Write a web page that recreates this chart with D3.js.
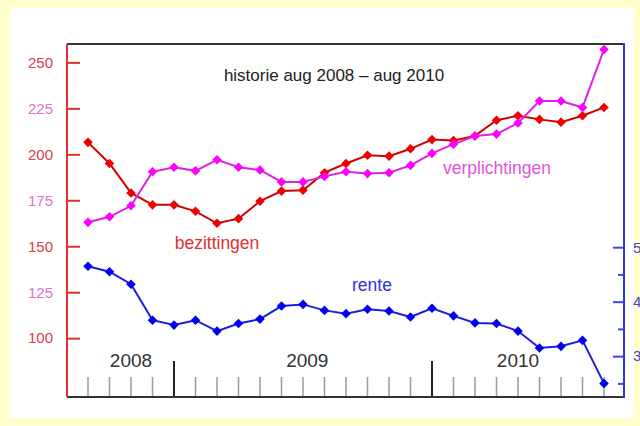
<!DOCTYPE html>
<html>
<head>
<meta charset="utf-8">
<script src="https://cdn.jsdelivr.net/npm/d3@7"></script>
<style>
  html, body { margin: 0; padding: 0; background: #ffffcc; }
  svg { display: block; font-family: "Liberation Sans", Arial, sans-serif; }
</style>
</head>
<body>
<svg id="chart" width="640" height="426"></svg>
<script>
// ---- data ----
const months = ["aug 2008","sep 2008","okt 2008","nov 2008","dec 2008","jan 2009","feb 2009","mrt 2009","apr 2009","mei 2009","jun 2009","jul 2009","aug 2009","sep 2009","okt 2009","nov 2009","dec 2009","jan 2010","feb 2010","mrt 2010","apr 2010","mei 2010","jun 2010","jul 2010","aug 2010"];
const bezittingen = [206.5,195,179,172.5,172.5,169,162.5,165,174.5,180,180.5,190,195,199.5,199,203,208,207.5,210,218.5,221,219,217.5,221,225.5];
const verplichtingen = [163,166,172,190.5,193,191,197,193,191.5,185,185,188,190.5,189.5,190,194,200.5,205.5,210,211,217,229,229,225.5,257];
const rente = [4.65,4.55,4.32,3.66,3.57,3.66,3.46,3.60,3.68,3.92,3.95,3.84,3.78,3.86,3.83,3.72,3.88,3.74,3.61,3.60,3.46,3.15,3.18,3.29,2.50];
const leftTicks = [100,125,150,175,200,225,250];
const rightTicks = [2.5,3,3.5,4,4.5,5];
const rightLabels = {3:"3",4:"4",5:"5"};
const yearTickMonths = ["dec 2008","dec 2009"];
const yearLabels = [{label:"2008", at:"okt 2008"},{label:"2009", at:"jun 2009", off:0.2},{label:"2010", at:"apr 2010"}];
const title = "historie aug 2008 \u2013 aug 2010";

// ---- layout ----
const svg = d3.select("#chart");
const L = 67, R = 624, T = 44, B = 397;

svg.append("rect").attr("x",10).attr("y",8).attr("width",624).attr("height",410).attr("fill","#ffffff");

const x = d3.scalePoint().domain(months).range([88, 604]);
const yL = d3.scaleLinear().domain([68, 260]).range([B, T]);
const yR = d3.scaleLinear().domain([2.25, 8.73]).range([B, T]);

// top border
svg.append("line").attr("x1",L).attr("x2",R).attr("y1",T).attr("y2",T)
  .attr("stroke","#333").attr("stroke-width",2);

// bottom axis: month ticks
const gx = svg.append("g").attr("transform",`translate(0,${B})`);
gx.selectAll("line.minor").data(months.filter(m => !yearTickMonths.includes(m))).join("line")
  .attr("x1",d=>x(d)).attr("x2",d=>x(d)).attr("y1",0).attr("y2",-20)
  .attr("stroke","#9a9a9a").attr("stroke-width",1.5);
gx.selectAll("line.major").data(yearTickMonths).join("line")
  .attr("x1",d=>x(d)).attr("x2",d=>x(d)).attr("y1",0).attr("y2",-36)
  .attr("stroke","#222").attr("stroke-width",2);
gx.append("line").attr("x1",L).attr("x2",R).attr("y1",0).attr("y2",0)
  .attr("stroke","#333").attr("stroke-width",2);
gx.selectAll("text.year").data(yearLabels).join("text")
  .attr("x",d=> x(d.at) + (d.off ? d.off*x.step() : 0))
  .attr("y",-30).attr("text-anchor","middle")
  .attr("font-size",19).attr("fill","#333").text(d=>d.label);

// left axis
const axL = d3.axisLeft(yL).tickValues(leftTicks).tickSizeInner(-13).tickSizeOuter(0).tickPadding(14);
const gl = svg.append("g").attr("transform",`translate(${L},0)`).call(axL);
gl.select(".domain").remove();
gl.append("line").attr("x1",0).attr("x2",0).attr("y1",T).attr("y2",B).attr("stroke","#e03030").attr("stroke-width",2);
gl.selectAll(".tick line").attr("stroke","#e03030").attr("stroke-width",2);
gl.selectAll(".tick text").attr("font-size",15).attr("font-family","Liberation Sans, Arial, sans-serif")
  .attr("fill",(d,i)=> i%2===0 ? "#d84048" : "#e070d0");

// right axis
const axR = d3.axisRight(yR).tickValues(rightTicks).tickSizeInner(-11).tickSizeOuter(0).tickPadding(9)
  .tickFormat(d => rightLabels[d] || "");
const gr = svg.append("g").attr("transform",`translate(${R},0)`).call(axR);
gr.select(".domain").remove();
gr.append("line").attr("x1",0).attr("x2",0).attr("y1",T-1).attr("y2",B+1).attr("stroke","#3333ee").attr("stroke-width",2);
gr.selectAll(".tick line").attr("stroke","#4444dd").attr("stroke-width",2)
  .attr("x2",d => Number.isInteger(d) ? -11 : -6);
gr.selectAll(".tick text").attr("font-size",15).attr("font-family","Liberation Sans, Arial, sans-serif").attr("fill","#4444cc");

// series
function drawSeries(values, yScale, lineColor, markColor) {
  const g = svg.append("g");
  const line = d3.line().x((d,i)=>x(months[i])).y(d=>yScale(d));
  g.append("path").attr("d",line(values)).attr("fill","none")
    .attr("stroke",lineColor).attr("stroke-width",2);
  g.selectAll("path.m").data(values).join("path")
    .attr("d", d3.symbol().type(d3.symbolSquare).size(46))
    .attr("transform",(d,i)=>`translate(${x(months[i])},${yScale(d)}) rotate(45)`)
    .attr("fill",markColor);
}
drawSeries(rente, yR, "#1c1ce0", "#0000ee");
drawSeries(bezittingen, yL, "#d00000", "#ee0000");
drawSeries(verplichtingen, yL, "#e020e0", "#ff00ff");

// labels
svg.append("text").attr("x",334).attr("y",81).attr("text-anchor","middle")
  .attr("font-size",17).attr("fill","#222").text(title);
svg.append("text").attr("x",217).attr("y",249).attr("text-anchor","middle")
  .attr("font-size",17.5).attr("fill","#e03030").text("bezittingen");
svg.append("text").attr("x",497).attr("y",174).attr("text-anchor","middle")
  .attr("font-size",17.5).attr("fill","#dd55dd").text("verplichtingen");
svg.append("text").attr("x",372).attr("y",291).attr("text-anchor","middle")
  .attr("font-size",17.5).attr("fill","#3030dd").text("rente");
</script>
</body>
</html>
